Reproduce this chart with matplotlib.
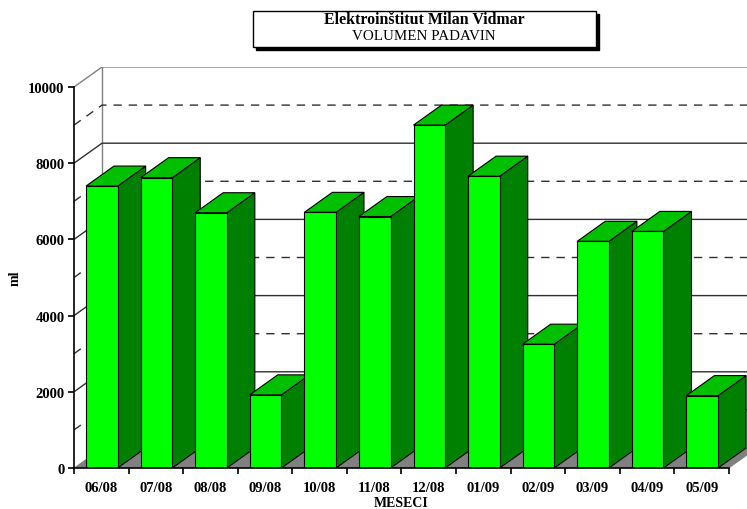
import matplotlib.pyplot as plt
from matplotlib.patches import Polygon, Rectangle

months = ['06/08', '07/08', '08/08', '09/08', '10/08', '11/08',
          '12/08', '01/09', '02/09', '03/09', '04/09', '05/09']
volume = [7400, 7620, 6700, 1920, 6710, 6600, 9000, 7660, 3250, 5950, 6210, 1900]
y_ticks = [0, 2000, 4000, 6000, 8000, 10000]

title = 'Elektroinštitut Milan Vidmar'
subtitle = 'VOLUMEN PADAVIN'

FACE = '#00ff00'
TOP = '#00c000'
SIDE = '#008000'
FLOOR = '#808080'
FRAME = '#808080'

W, H = 747, 510
# depth of the fake 3d box, in data units
DX, DY = 0.513, 525
XMAX = 12.33
YMAX = 10525

plt.rcParams['font.family'] = ['Liberation Serif', 'DejaVu Serif']

fig = plt.figure(figsize=(W / 100, H / 100), dpi=100)
ax = fig.add_axes([74 / W, 41 / H, (W - 74) / W, 401 / H])
ax.set_xlim(0, XMAX)
ax.set_ylim(0, YMAX)

# back wall frame
ax.plot([0, DX, XMAX], [10000, 10000 + DY, 10000 + DY], color=FRAME, lw=1, zorder=1)
ax.plot([DX, DX], [DY, 10000 + DY], color=FRAME, lw=1, zorder=1)

# gridlines on the left and back walls
for v in range(1000, 10000, 1000):
    if v % 2000 == 0:
        ax.plot([0, DX, XMAX], [v, v + DY, v + DY], color='#303030', lw=1, zorder=1)
    else:
        ax.plot([0, DX, XMAX], [v, v + DY, v + DY], color='#303030', lw=1,
                ls=(0, (6, 5)), zorder=1)

# floor
n = len(months)
ax.add_patch(Polygon([(0, 0), (n, 0), (n + DX, DY), (DX, DY)],
                     closed=True, facecolor=FLOOR, edgecolor=FLOOR, lw=0.5, zorder=2))

bar_w = 0.58
gap = 0.22
for i, h in enumerate(volume):
    x0 = i + gap
    x1 = x0 + bar_w
    z = 3 + i
    ax.add_patch(Polygon([(x1, 0), (x1 + DX, DY), (x1 + DX, h + DY), (x1, h)],
                         closed=True, facecolor=SIDE, edgecolor='black', lw=0.8, zorder=z))
    ax.add_patch(Polygon([(x0, h), (x1, h), (x1 + DX, h + DY), (x0 + DX, h + DY)],
                         closed=True, facecolor=TOP, edgecolor='black', lw=0.8, zorder=z))
    ax.add_patch(Rectangle((x0, 0), bar_w, h, facecolor=FACE, edgecolor='black',
                           lw=0.8, zorder=z))

for s in ['top', 'right']:
    ax.spines[s].set_visible(False)
ax.spines['left'].set_bounds(0, 10000)
ax.spines['bottom'].set_bounds(0, n)
ax.spines['left'].set_zorder(30)
ax.spines['bottom'].set_zorder(30)
ax.spines['left'].set_linewidth(1.2)
ax.spines['bottom'].set_linewidth(1.2)

ax.set_yticks(y_ticks)
ax.set_yticklabels([str(v) for v in y_ticks], fontsize=10.5, fontweight='bold')
ax.tick_params(axis='y', length=4.3, width=1.2, pad=2.5)

ax.set_xticks([i + 0.5 for i in range(n)])
ax.set_xticklabels(months, fontsize=10.5, fontweight='bold')
ax.set_xticks(range(n + 1), minor=True)
ax.tick_params(axis='x', which='major', length=0, pad=9.5)
ax.tick_params(axis='x', which='minor', length=4.3, width=1.2)

fig.text(401 / W, 1 - 504 / H, 'MESECI', ha='center', va='center',
         fontsize=10, fontweight='bold')
fig.text(15 / W, 1 - 278 / H, 'ml', ha='center', va='center', rotation=90,
         fontsize=10, fontweight='bold')

# title box with shadow
bx0, by0, bx1, by1 = 253, 12, 596, 48
fig.add_artist(Rectangle(((bx0 + 3) / W, 1 - (by1 + 3) / H), (bx1 - bx0) / W,
                         (by1 - by0) / H, facecolor='black', edgecolor='black',
                         transform=fig.transFigure, zorder=1))
fig.add_artist(Rectangle((bx0 / W, 1 - by1 / H), (bx1 - bx0) / W, (by1 - by0) / H,
                         facecolor='white', edgecolor='black', lw=1,
                         transform=fig.transFigure, zorder=2))
fig.text(424 / W, 1 - 19.5 / H, title, ha='center', va='center', fontsize=11.4,
         fontweight='bold', zorder=3)
fig.text(424 / W, 1 - 37 / H, subtitle, ha='center', va='center', fontsize=10.8,
         zorder=3)

fig.savefig('out.png', dpi=100)
